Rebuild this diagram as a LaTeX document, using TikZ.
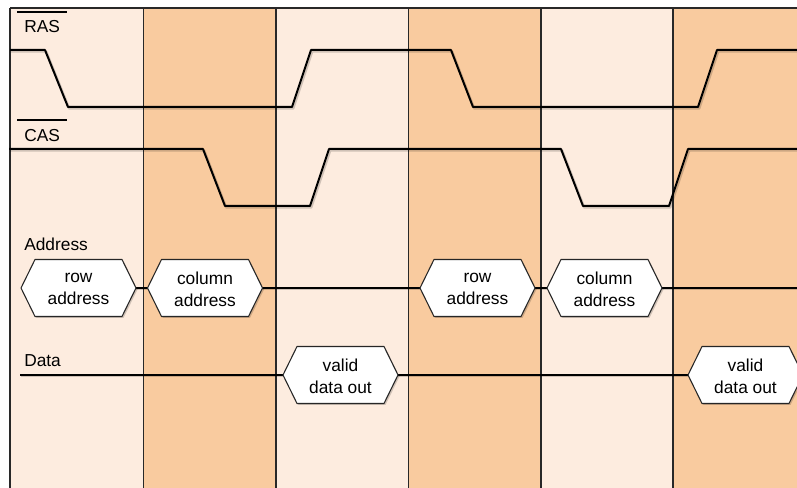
\documentclass[tikz,border=0pt]{standalone}
\usepackage{fontspec}
\setmainfont{Liberation Sans}
\usetikzlibrary{calc}
\definecolor{lightcol}{RGB}{253,236,223}
\definecolor{darkcol}{RGB}{249,203,159}
\definecolor{gridcol}{RGB}{40,40,40}
\tikzset{
  colband/.style={draw=none},
  gridline/.style={draw=gridcol, line width=0.9pt},
  wave/.style={draw=black, line width=1.5pt, line join=round},
  waveshadow/.style={draw=black, opacity=0.18, line width=1.8pt, line join=round},
  sigline/.style={draw=black, line width=1.4pt},
  hexshape/.style={fill=white, draw=black!85, line width=0.8pt, line join=round},
  hexshadow/.style={fill=black, opacity=0.18, draw=none},
  hextext/.style={align=center, inner sep=0pt, font=\fontsize{13pt}{16.5pt}\selectfont},
  lbl/.style={anchor=base west, inner sep=0pt, font=\fontsize{13pt}{15pt}\selectfont},
  barline/.style={draw=black, line width=1.1pt}
}
\newcommand\hexsig[4]{%
  \coordinate (#1) at (#2,#3);
  \coordinate (#1-w) at ($(#1)+(-57.5,0)$);
  \coordinate (#1-e) at ($(#1)+(57.5,0)$);
  \path[hexshadow] ($(#1-w)+(1.5,1.5)$) -- ++(14,-28.5) -- ++(87,0) -- ($(#1-e)+(1.5,1.5)$) -- ++(-14,28.5) -- ++(-87,0) -- cycle;
  \path[hexshape] (#1-w) -- ++(14,-28.5) -- ++(87,0) -- (#1-e) -- ++(-14,28.5) -- ++(-87,0) -- cycle;
  \node[hextext] (#1-t) at ($(#1)+(0,1)$) {#4};
}
\begin{document}
\begin{tikzpicture}[x=0.75pt, y=-0.75pt]
\useasboundingbox (0,0) rectangle (797,488);
\clip (0,0) rectangle (797,488);
% bands
\fill[lightcol] (10,8) rectangle (143.5,488);
\fill[darkcol] (143.5,8) rectangle (276,488);
\fill[lightcol] (276,8) rectangle (408.5,488);
\fill[darkcol] (408.5,8) rectangle (541,488);
\fill[lightcol] (541,8) rectangle (673,488);
\fill[darkcol] (673,8) rectangle (800,488);
% grid
\draw[gridline] (10,8) -- (800,8);
\foreach \gx in {10,143.5,276,408.5,541,673}{
  \draw[gridline] (\gx,8) -- (\gx,490);
}
% labels
\node[lbl] (ras) at (24,33) {RAS};
\node[lbl] (cas) at (24,142) {CAS};
\node[lbl] (addr) at (24,251) {Address};
\node[lbl] (data) at (24,367) {Data};
\draw[barline] (17,12) -- (67,12);
\draw[barline] (17,120) -- (67,120);
% RAS waveform
\draw[waveshadow, shift={(1.2,1.5)}] (10,50) -- (45,50) -- (68,107) -- (292,107) -- (311,50) -- (451,50) -- (473,107) -- (698,107) -- (717,50) -- (800,50);
\draw[wave] (10,50) -- (45,50) -- (68,107) -- (292,107) -- (311,50) -- (451,50) -- (473,107) -- (698,107) -- (717,50) -- (800,50);
% CAS waveform
\draw[waveshadow, shift={(1.2,1.5)}] (9,149) -- (203,149) -- (225,206) -- (310,206) -- (329,149) -- (561,149) -- (583,206) -- (669,206) -- (688,149) -- (800,149);
\draw[wave] (9,149) -- (203,149) -- (225,206) -- (310,206) -- (329,149) -- (561,149) -- (583,206) -- (669,206) -- (688,149) -- (800,149);
% address bus
\coordinate (addrend) at (800,288);
\coordinate (datastart) at (20,375);
\draw[waveshadow, line width=1.4pt, shift={(1,1.5)}] (20,288) -- (800,288);
\draw[waveshadow, line width=1.4pt, shift={(1,1.5)}] (20,375) -- (800,375);
\draw[sigline] (78,288) -- (205,288);
\draw[sigline] (205,288) -- (477,288);
\draw[sigline] (477,288) -- (addrend);
\draw[sigline] (datastart) -- (340,375);
\draw[sigline] (340,375) -- (745,375);
\hexsig{ra1}{78.5}{288}{row\\address}
\hexsig{ca1}{205}{288}{column\\address}
\hexsig{ra2}{477.5}{288}{row\\address}
\hexsig{ca2}{604.5}{288}{column\\address}
\hexsig{do1}{340.5}{375}{valid\\data out}
\hexsig{do2}{745.5}{375}{valid\\data out}
\end{tikzpicture}
\end{document}
